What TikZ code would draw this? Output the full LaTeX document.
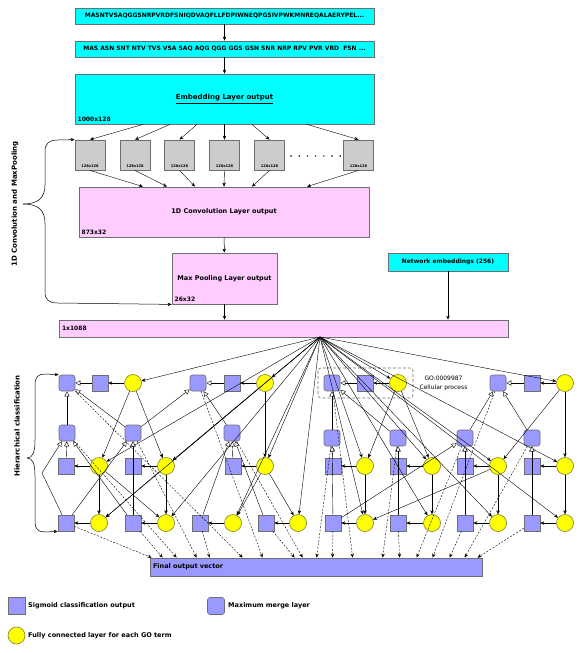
\documentclass[tikz,border=0pt]{standalone}
\usepackage{fontspec}
\setmainfont{DejaVu Sans}
\usetikzlibrary{arrows.meta}
\definecolor{seqcyan}{RGB}{0,255,255}
\definecolor{layerpink}{RGB}{255,204,255}
\definecolor{kernelgrey}{RGB}{204,204,204}
\definecolor{sigblue}{RGB}{153,153,255}
\definecolor{fcyellow}{RGB}{255,255,0}
\definecolor{rimgrey}{RGB}{110,110,110}
\definecolor{fcrim}{RGB}{125,125,45}

\tikzset{
  layer/.style={draw=rimgrey, line width=0.8pt, inner sep=0pt, font=\fontsize{6.5}{8}\selectfont\bfseries},
  seqbox/.style={layer, fill=seqcyan, minimum width=299pt, minimum height=16pt, font=\fontsize{6}{7}\selectfont\bfseries},
  kernel/.style={draw=rimgrey, line width=0.8pt, fill=kernelgrey, minimum size=30pt, inner sep=0pt,
    label={[anchor=south, inner sep=2.5pt, font=\fontsize{3.6}{4}\selectfont\bfseries]south:128x128}},
  dimlbl/.style={anchor=south west, inner sep=2.8pt, font=\fontsize{6}{7}\selectfont\bfseries},
  sq/.style={draw=rimgrey, line width=0.6pt, fill=sigblue, minimum size=16pt, inner sep=0pt},
  mrg/.style={sq, rounded corners=2.5pt},
  fc/.style={circle, draw=fcrim, line width=0.6pt, fill=fcyellow, minimum size=17pt, inner sep=0pt},
  txt/.style={inner sep=1pt, font=\fontsize{6.5}{8}\selectfont\bfseries}
}

\begin{document}
\begin{tikzpicture}[x=1pt, y=-1pt, > = {Stealth[length=4pt, width=3.4pt]},
    feat/.style={->, line width=0.4pt},
    tri/.style={-{Triangle[length=5pt, width=5pt, fill=white]}, line width=0.4pt},
    toout/.style={->, line width=0.4pt, dash pattern=on 2pt off 1.5pt}]
	\useasboundingbox (0,0) rectangle (581,653);

	% input and embedding
	\node[seqbox] (seq) at (224.5,16) {MASNTVSAQGGSNRPVRDFSNIQDVAQFLLFDPIWNEQPGSIVPWKMNREQALAERYPEL...};
	\node[seqbox] (tri) at (224.5,49) {MAS ASN SNT NTV TVS VSA SAQ AQG QGG GGS GSN SNR NRP RPV PVR VRD\ \ FSN ...};
	\node[layer, fill=seqcyan, minimum width=299pt, minimum height=50pt, font=\fontsize{7}{8}\selectfont\bfseries,
	      label={[dimlbl]south west:1000x128}] (emb) at (224.5,99) {\underline{Embedding Layer output}};
	\draw[->, line width=0.5pt] (seq) -- (tri);
	\draw[->, line width=0.5pt] (tri) -- (emb);

	% convolution kernels
	\node[kernel] (k1) at (90,155) {};
	\node[kernel] (k2) at (135,155) {};
	\node[kernel] (k3) at (179.5,155) {};
	\node[kernel] (k4) at (224.5,155) {};
	\node[kernel] (k5) at (269.5,155) {};
	\node[kernel] (k6) at (358.5,155) {};
	\fill (291,156) circle (0.8) (299.2,156) circle (0.8) (307.4,156) circle (0.8) (315.6,156) circle (0.8)
	      (323.8,156) circle (0.8) (332,156) circle (0.8) (340.2,156) circle (0.8);

	\node[layer, fill=layerpink, minimum width=290pt, minimum height=50pt,
	      label={[dimlbl]south west:873x32}] (conv) at (224,212) {1D Convolution Layer output};
	\node[layer, fill=layerpink, minimum width=105pt, minimum height=51pt,
	      label={[dimlbl]south west:26x32}] (mp) at (224.5,278.5) {Max Pooling Layer output};
	\node[layer, fill=seqcyan, minimum width=120pt, minimum height=18pt,
	      font=\fontsize{6}{7}\selectfont\bfseries] (net) at (448,262) {Network embeddings (256)};
	\node[layer, fill=layerpink, text width=443pt, minimum height=17pt, inner xsep=3pt, align=left,
	      font=\fontsize{6}{7}\selectfont\bfseries] (bar) at (283.5,328.5) {1x1088};

	\draw[->, line width=0.4pt] ([xshift=-81.5pt]emb.south) -- (k1.north);
	\draw[->, line width=0.4pt] ([xshift=-54.5pt]emb.south) -- (k2.north);
	\draw[->, line width=0.4pt] ([xshift=-27.5pt]emb.south) -- (k3.north);
	\draw[->, line width=0.4pt] (emb.south) -- (k4.north);
	\draw[->, line width=0.4pt] ([xshift=27.5pt]emb.south) -- (k5.north);
	\draw[->, line width=0.4pt] ([xshift=82.5pt]emb.south) -- (k6.north);
	\draw[->, line width=0.4pt] (k1.south) -- ([xshift=-81pt]conv.north);
	\draw[->, line width=0.4pt] (k2.south) -- ([xshift=-57pt]conv.north);
	\draw[->, line width=0.4pt] (k3.south) -- ([xshift=-29pt]conv.north);
	\draw[->, line width=0.4pt] (k4.south) -- (conv.north);
	\draw[->, line width=0.4pt] (k5.south) -- ([xshift=28pt]conv.north);
	\draw[->, line width=0.4pt] (k6.south) -- ([xshift=83pt]conv.north);
	\draw[->, line width=0.5pt] (conv) -- (mp);
	\draw[->, line width=0.5pt] (mp) -- (mp |- bar.north);
	\draw[->, line width=0.5pt] (net) -- (net |- bar.north);

	% brace over the convolution part
	\node[rotate=90, font=\fontsize{7}{8}\selectfont\bfseries] (convlbl) at (15,204) {1D Convolution and MaxPooling};
	\draw[->, line width=0.5pt] (23,204) .. controls (38,204) and (45,198) .. (45,185) -- (45,152)
	      .. controls (45,143) and (49,140) .. (58,140) -- (k1.north west);
	\draw[->, line width=0.5pt] (23,204) .. controls (38,204) and (45,210) .. (45,223) -- (45,292)
	      .. controls (45,300) and (49,303) .. (58,303) -- (mp.south west);

	% GO terms, row 1
	\node[mrg] (m1) at (67,383) {};  \node[sq] (s1) at (100,383) {};  \node[fc] (f1) at (133,383) {};
	\node[mrg] (m2) at (198,383) {}; \node[sq] (s2) at (232,383) {};  \node[fc] (f2) at (265,383) {};
	\node[mrg] (m3) at (332,383) {}; \node[sq] (s3) at (365,383) {};  \node[fc] (f3) at (398,383) {};
	\node[mrg] (m4) at (498,383) {}; \node[sq] (s4) at (532,383) {};  \node[fc] (f4) at (565,383) {};
	\draw[densely dashed, rimgrey, line width=0.6pt, rounded corners=3pt] (318,368) rectangle (413,398);
	\node[align=center, inner sep=0pt, font=\fontsize{6}{8.5}\selectfont] (golbl) at (443.5,383.5) {GO:0009987\\Cellular process};

	% GO terms, rows 2 and 3
	\node[mrg] (m5) at (67,433) {};   \node[sq] (s5) at (66,466) {};   \node[fc] (f5) at (99,466) {};
	\node[mrg] (m6) at (133,433) {};  \node[sq] (s6) at (133,466) {};  \node[fc] (f6) at (166,466) {};
	\node[mrg] (m7) at (232,433) {};  \node[sq] (s7) at (233,466) {};  \node[fc] (f7) at (265,466) {};
	\node[mrg] (m8) at (332,438) {};  \node[sq] (s8) at (333,466) {};  \node[fc] (f8) at (365,466) {};
	\node[mrg] (m9) at (398,438) {};  \node[sq] (s9) at (398,466) {};  \node[fc] (f9) at (432,466) {};
	\node[mrg] (m10) at (465,438) {}; \node[sq] (s10) at (465,466) {}; \node[fc] (f10) at (498,466) {};
	\node[mrg] (m11) at (532,438) {}; \node[sq] (s11) at (532,466) {}; \node[fc] (f11) at (565,466) {};

	% GO terms, row 4 (leaves)
	\node[sq] (s12) at (66,523) {};  \node[fc] (f12) at (99,523) {};
	\node[sq] (s13) at (133,523) {}; \node[fc] (f13) at (166,523) {};
	\node[sq] (s14) at (200,523) {}; \node[fc] (f14) at (233,523) {};
	\node[sq] (s15) at (266,523) {}; \node[fc] (f15) at (298,523) {};
	\node[sq] (s16) at (333,523) {}; \node[fc] (f16) at (365,523) {};
	\node[sq] (s17) at (398,523) {}; \node[fc] (f17) at (432,523) {};
	\node[sq] (s18) at (465,523) {}; \node[fc] (f18) at (498,523) {};
	\node[sq] (s19) at (532,523) {}; \node[fc] (f19) at (565,523) {};

	\node[layer, fill=sigblue, text width=326pt, minimum height=18pt, inner xsep=3pt, align=left,
	      font=\fontsize{6.5}{8}\selectfont\bfseries] (fin) at (316,567) {Final output vector};

	% brace over the hierarchy
	\node[rotate=90, font=\fontsize{7}{8}\selectfont\bfseries] (hierlbl) at (17,426) {Hierarchical classification};
	\draw[->, line width=0.5pt] (27,458) .. controls (33,458) and (35,452) .. (35,440) -- (35,385)
	      .. controls (35,377) and (38,374) .. (45,374) -- (m1.north west);
	\draw[->, line width=0.5pt] (27,458) .. controls (33,458) and (35,464) .. (35,476) -- (35,522)
	      .. controls (35,529) and (38,532) .. (45,532) -- (s12.south west);

	% features from the joined vector
	\coordinate (fan) at (320,337);
	\path[feat] (fan) edge (f1) edge (f2) edge (f3) edge (f4) edge (f5) edge (f6) edge (f7) edge (f8)
	      edge (f9) edge (f10) edge (f11) edge (f12) edge (f13) edge (f14) edge (f15) edge (f16)
	      edge (f17) edge (f18) edge (f19);

	% parent term to child term, term to its sigmoid
	\path[feat] (f1) edge (s1) edge (f5) edge (f6);
	\path[feat] (f2) edge (s2) edge (f6) edge (f7);
	\path[feat] (f3) edge (s3) edge (f8) edge (f9);
	\path[feat] (f4) edge (s4) edge (f10) edge (f11);
	\path[feat] (f5) edge (s5) edge (f12) edge (f13);
	\path[feat] (f6) edge (s6) edge (f12) edge (f13);
	\path[feat] (f7) edge (s7) edge (f14) edge (f15);
	\path[feat] (f8) edge (s8) edge (f16);
	\path[feat] (f9) edge (s9) edge (f17);
	\path[feat] (f10) edge (s10) edge (f16) edge (f18);
	\path[feat] (f11) edge (s11) edge (f19);
	\path[feat] (f12) edge (s12) (f13) edge (s13) (f14) edge (s14) (f15) edge (s15);
	\path[feat] (f16) edge (s16) (f17) edge (s17) (f18) edge (s18) (f19) edge (s19);

	% maximum merge
	\path[tri] (s1) edge (m1) (m5) edge (m1) (m6) edge (m1);
	\path[tri] (s2) edge (m2) (m6) edge (m2) (m7) edge (m2);
	\path[tri] (s3) edge (m3) (m8) edge (m3) (m9) edge (m3);
	\path[tri] (s4) edge (m4) (m10) edge (m4) (m11) edge (m4);
	\coordinate (bend) at (42,473);
	\draw[tri] (s12) -- (bend) -- (m5);
	\path[tri] (s5) edge (m5) (s13) edge (m5);
	\path[tri] (s6) edge (m6) (s12) edge (m6) (s13) edge (m6);
	\path[tri] (s7) edge (m7) (s14) edge (m7) (s15) edge (m7);
	\path[tri] (s8) edge (m8) (s16) edge (m8);
	\path[tri] (s9) edge (m9) (s17) edge (m9);
	\path[tri] (s10) edge (m10) (s16) edge (m10) (s18) edge (m10);
	\path[tri] (s11) edge (m11) (s19) edge (m11);

	% to the final output vector
	\draw[toout] (m1) -- ([xshift=93pt]fin.north west);
	\draw[toout] (m2) -- ([xshift=113pt]fin.north west);
	\draw[toout] (m3) -- ([xshift=203pt]fin.north west);
	\draw[toout] (m4) -- ([xshift=283pt]fin.north west);
	\draw[toout] (m5) -- ([xshift=27pt]fin.north west);
	\draw[toout] (m6) -- ([xshift=47pt]fin.north west);
	\draw[toout] (m7) -- ([xshift=153pt]fin.north west);
	\draw[toout] (m8) -- ([xshift=167pt]fin.north west);
	\draw[toout] (m9) -- ([xshift=233pt]fin.north west);
	\draw[toout] (m10) -- ([xshift=267pt]fin.north west);
	\draw[toout] (m11) -- ([xshift=315pt]fin.north west);
	\draw[toout] (s12) -- ([xshift=2pt]fin.north west);
	\draw[toout] (s13) -- ([xshift=13pt]fin.north west);
	\draw[toout] (s14) -- ([xshift=60pt]fin.north west);
	\draw[toout] (s15) -- ([xshift=145pt]fin.north west);
	\draw[toout] (s16) -- ([xshift=183pt]fin.north west);
	\draw[toout] (s17) -- ([xshift=250pt]fin.north west);
	\draw[toout] (s18) -- ([xshift=300pt]fin.north west);
	\draw[toout] (s19) -- ([xshift=328pt]fin.north west);

	% legend
	\node[sq, minimum size=17pt] (lsq) at (16.5,606) {};
	\node[txt, anchor=west] (lsqtxt) at (27,606) {Sigmoid classification output};
	\node[mrg, minimum size=17pt] (lmrg) at (216,606) {};
	\node[txt, anchor=west] (lmrgtxt) at (227,606) {Maximum merge layer};
	\node[fc] (lfc) at (16.5,635.5) {};
	\node[txt, anchor=west] (lfctxt) at (27,635.5) {Fully connected layer for each GO term};
\end{tikzpicture}
\end{document}
